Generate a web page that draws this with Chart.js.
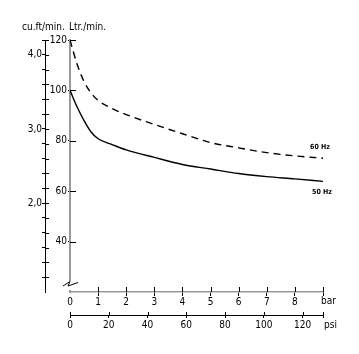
<!DOCTYPE html>
<html>
<head>
<meta charset="utf-8">
<script src="https://cdn.jsdelivr.net/npm/chart.js@4"></script>
<style>
  html, body { margin: 0; padding: 0; background: #fff; }
  #wrap { width: 359px; height: 354px; }
</style>
</head>
<body>
<div id="wrap"><canvas id="flow-chart"></canvas></div>
<script>
// pressure in bar, flow in Ltr./min.
const barValues = [0, 0.25, 0.5, 0.75, 1, 1.5, 2, 3, 4, 5, 6, 7, 8, 9];
const flow50Hz = [100, 93.5, 88, 83.5, 80.8, 78.5, 76.4, 73.4, 70.6, 68.8, 67, 65.8, 64.9, 63.9];
const flow60Hz = [120, 110.5, 103.5, 99, 96, 92.8, 90.4, 86.5, 82.8, 79.3, 77.2, 75.3, 74, 73.1];

const barTicks = [0, 1, 2, 3, 4, 5, 6, 7, 8, 9];
const psiTicks = [0, 20, 40, 60, 80, 100, 120, 130.5];
const ltrTicks = [40, 60, 80, 100, 120];
const cfmTicks = [1.0, 1.2, 1.4, 1.6, 1.8, 2.0, 2.2, 2.4, 2.6, 2.8, 3.0, 3.2, 3.4, 3.6, 3.8, 4.0, 4.2];
const cfmLabels = [2, 3, 4];

const FONT = "'DejaVu Sans Condensed', 'Liberation Sans Narrow', 'Liberation Sans', sans-serif";

const toPoints = (xs, ys) => xs.map((x, i) => ({ x: x, y: ys[i] }));
const setTicks = list => scale => { scale.ticks = list.map(v => ({ value: v })); };

// draws the half of each tick that reaches inside the axis, the break mark and the text
const extras = {
  id: 'extras',
  afterDraw(chart) {
    const c = chart.ctx;
    const { x, x2, y, y2 } = chart.scales;
    const seg = (a, b, d, e) => { c.beginPath(); c.moveTo(a, b); c.lineTo(d, e); c.stroke(); };
    c.save();
    c.strokeStyle = '#000';
    c.lineWidth = 1;
    y.ticks.forEach(t => { const p = Math.round(y.getPixelForValue(t.value)) + 0.5; seg(y.right, p, y.right + 6, p); });
    y2.ticks.forEach(t => { const p = Math.round(y2.getPixelForValue(t.value)) + 0.5; seg(y2.right, p, y2.right + 4, p); });
    x.ticks.forEach(t => { if (t.value === 0) return; const p = Math.round(x.getPixelForValue(t.value)) + 0.5; seg(p, x.top, p, x.top - 5); });
    x2.ticks.forEach(t => { const p = Math.round(x2.getPixelForValue(t.value)) + 0.5; seg(p, x2.top, p, x2.top - 3); });

    // axis break on the Ltr axis
    const ax = y.right;
    c.fillStyle = '#fff';
    c.fillRect(ax - 4, 277, 8, 13);
    c.strokeStyle = '#999';
    c.lineWidth = 2;
    seg(ax, 276, ax, 281);
    c.strokeStyle = '#000';
    c.lineWidth = 1;
    c.beginPath();
    c.moveTo(ax - 7, 286);
    c.lineTo(ax, 281.5);
    c.lineTo(ax - 2, 286);
    c.lineTo(ax + 8, 282.5);
    c.stroke();

    c.fillStyle = '#000';
    c.textBaseline = 'middle';
    c.font = '10px ' + FONT;
    c.textAlign = 'left';
    c.fillText('cu.ft/min.', 22, 27);
    c.fillText('Ltr./min.', 69, 27);
    c.fillText('bar', 321, 301);
    c.fillText('psi', 324, 325);
    c.font = 'bold 7px ' + FONT;
    c.fillText('60 Hz', 310, 147);
    c.fillText('50 Hz', 312, 192);
    c.restore();
  }
};

const tickFont = { family: FONT, size: 10 };

const ctx = document.getElementById('flow-chart').getContext('2d');
const flowChart = new Chart(ctx, {
  type: 'line',
  data: {
    datasets: [{
      label: '50 Hz',
      data: toPoints(barValues, flow50Hz),
      borderColor: '#000',
      borderWidth: 1.4,
      pointRadius: 0,
      cubicInterpolationMode: 'monotone',
      xAxisID: 'x',
      yAxisID: 'y'
    }, {
      label: '60 Hz',
      data: toPoints(barValues, flow60Hz),
      borderColor: '#000',
      borderWidth: 1.4,
      borderDash: [7, 5],
      pointRadius: 0,
      cubicInterpolationMode: 'monotone',
      xAxisID: 'x',
      yAxisID: 'y'
    }]
  },
  options: {
    responsive: true,
    maintainAspectRatio: false,
    animation: false,
    layout: { padding: { left: 15, right: 36, top: 40, bottom: 19 } },
    plugins: { legend: { display: false }, tooltip: { enabled: false } },
    scales: {
      x: {
        type: 'linear',
        position: 'bottom',
        min: 0,
        max: 9,
        afterBuildTicks: setTicks(barTicks),
        afterFit: s => { s.height = 23; },
        border: { color: '#999', width: 1.5 },
        grid: {
          drawOnChartArea: false,
          tickLength: 4,
          color: c => (c.tick && c.tick.value === 0) ? 'rgba(0,0,0,0)' : '#000'
        },
        ticks: {
          padding: 0,
          maxRotation: 0,
          autoSkip: false,
          color: '#000',
          font: tickFont,
          callback: v => (v === 9 ? '' : String(v))
        }
      },
      x2: {
        type: 'linear',
        position: 'bottom',
        min: 0,
        max: 130.5,
        afterBuildTicks: setTicks(psiTicks),
        afterFit: s => { s.height = 20; },
        border: { color: '#000', width: 1 },
        grid: { drawOnChartArea: false, tickLength: 3, color: '#000' },
        ticks: {
          padding: 1,
          maxRotation: 0,
          autoSkip: false,
          color: '#000',
          font: tickFont,
          callback: v => (v > 125 ? '' : String(v))
        }
      },
      y: {
        type: 'linear',
        position: 'left',
        min: 20,
        max: 120,
        afterBuildTicks: setTicks(ltrTicks),
        afterFit: s => { s.width = 25; },
        border: { color: '#999', width: 2 },
        grid: { drawOnChartArea: false, tickLength: 2, color: '#000' },
        ticks: {
          padding: 1,
          autoSkip: false,
          color: '#000',
          font: tickFont
        }
      },
      y2: {
        type: 'linear',
        position: 'left',
        min: 0.8,
        max: 4.2,
        afterBuildTicks: setTicks(cfmTicks),
        afterFit: s => { s.width = 30; },
        border: { color: '#000', width: 1 },
        grid: { drawOnChartArea: false, tickLength: 3, color: '#000' },
        ticks: {
          padding: 0,
          autoSkip: false,
          color: '#000',
          font: tickFont,
          callback: v => (cfmLabels.some(l => Math.abs(l - v) < 1e-6) ? v.toFixed(1).replace('.', ',') : '')
        }
      }
    }
  },
  plugins: [extras]
});
</script>
</body>
</html>
